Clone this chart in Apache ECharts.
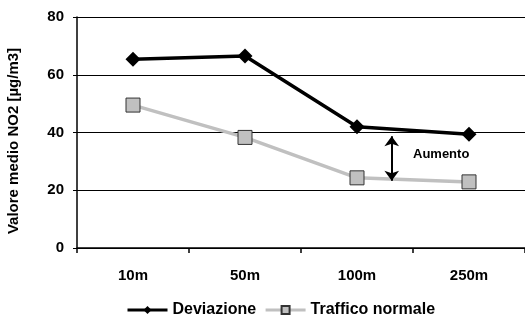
<!DOCTYPE html>
<html>
<head>
<meta charset="utf-8">
<script src="https://cdn.jsdelivr.net/npm/echarts@6/dist/echarts.min.js"></script>
<style>
  html, body { margin: 0; padding: 0; background: #fff; }
  #chart { width: 525px; height: 318px; }
</style>
</head>
<body>
<div id="chart"></div>
<script>
// distanze dalla strada
const categories = ['10m', '50m', '100m', '250m']
// valori medi NO2
const deviazione = [65.4, 66.5, 42.0, 39.4]
const trafficoNormale = [49.5, 38.3, 24.3, 22.9]
// freccia "Aumento" (posizione sull'asse categorie e valori)
const arrowX = 2.31
const arrowRange = [38.7, 23.3]

const font = 'Arial, Liberation Sans, sans-serif'

let mychart = echarts.init(document.getElementById('chart'))
mychart.setOption({
    animation: false,
    grid: { left: 77, top: 17, width: 454, bottom: 70 },
    legend: {
        top: 297,
        left: 121,
        itemWidth: 40,
        itemHeight: 10,
        itemGap: 8,
        lineStyle: { width: 3 },
        textStyle: { fontFamily: font, fontWeight: 'bold', fontSize: 16, color: '#000' },
        data: ['Deviazione', 'Traffico normale']
    },
    xAxis: [
        {
            type: 'category',
            data: categories,
            axisLine: { onZero: false, lineStyle: { color: '#000', width: 1.5 } },
            axisTick: { show: true, interval: 0, length: 5, lineStyle: { color: '#000', width: 1.5 } },
            axisLabel: { color: '#000', fontFamily: font, fontWeight: 'bold', fontSize: 15, margin: 20 }
        },
        {
            // asse nascosto per posizionare la freccia
            type: 'value',
            min: -0.5,
            max: 3.5,
            show: false
        }
    ],
    yAxis: {
        type: 'value',
        min: 0,
        max: 80,
        interval: 20,
        axisLine: { show: true, onZero: false, lineStyle: { color: '#000', width: 1.5 } },
        axisTick: { show: true, length: 4, lineStyle: { color: '#000' } },
        axisLabel: { color: '#000', fontFamily: font, fontWeight: 'bold', fontSize: 15, margin: 13 },
        splitLine: { lineStyle: { color: '#000', width: 1 } }
    },
    series: [
        {
            name: 'Deviazione',
            type: 'line',
            data: deviazione,
            symbol: 'diamond',
            symbolSize: 15,
            lineStyle: { color: '#000', width: 3.5 },
            itemStyle: { color: '#000' }
        },
        {
            name: 'Traffico normale',
            type: 'line',
            data: trafficoNormale,
            symbol: 'rect',
            symbolSize: 14,
            lineStyle: { color: '#c0c0c0', width: 3.5 },
            itemStyle: { color: '#c0c0c0', borderColor: '#333', borderWidth: 1 }
        },
        {
            type: 'line',
            xAxisIndex: 1,
            data: [],
            silent: true,
            markLine: {
                silent: true,
                symbol: ['arrow', 'arrow'],
                symbolSize: [11, 10],
                label: { show: false },
                lineStyle: { color: '#000', width: 2, type: 'solid' },
                data: [[
                    { coord: [arrowX, arrowRange[0]] },
                    { coord: [arrowX, arrowRange[1]] }
                ]]
            }
        }
    ],
    graphic: [
        {
            type: 'text',
            left: 413,
            top: 148,
            style: {
                text: 'Aumento',
                fill: '#000',
                fontFamily: font,
                fontWeight: 'bold',
                fontSize: 13
            }
        },
        {
            // titolo asse Y
            type: 'text',
            x: 14,
            y: 141,
            rotation: Math.PI / 2,
            style: {
                text: 'Valore medio NO2 [µg/m3]',
                fill: '#000',
                fontFamily: font,
                fontWeight: 'bold',
                fontSize: 15,
                align: 'center',
                verticalAlign: 'middle'
            }
        }
    ]
})
</script>
</body>
</html>
